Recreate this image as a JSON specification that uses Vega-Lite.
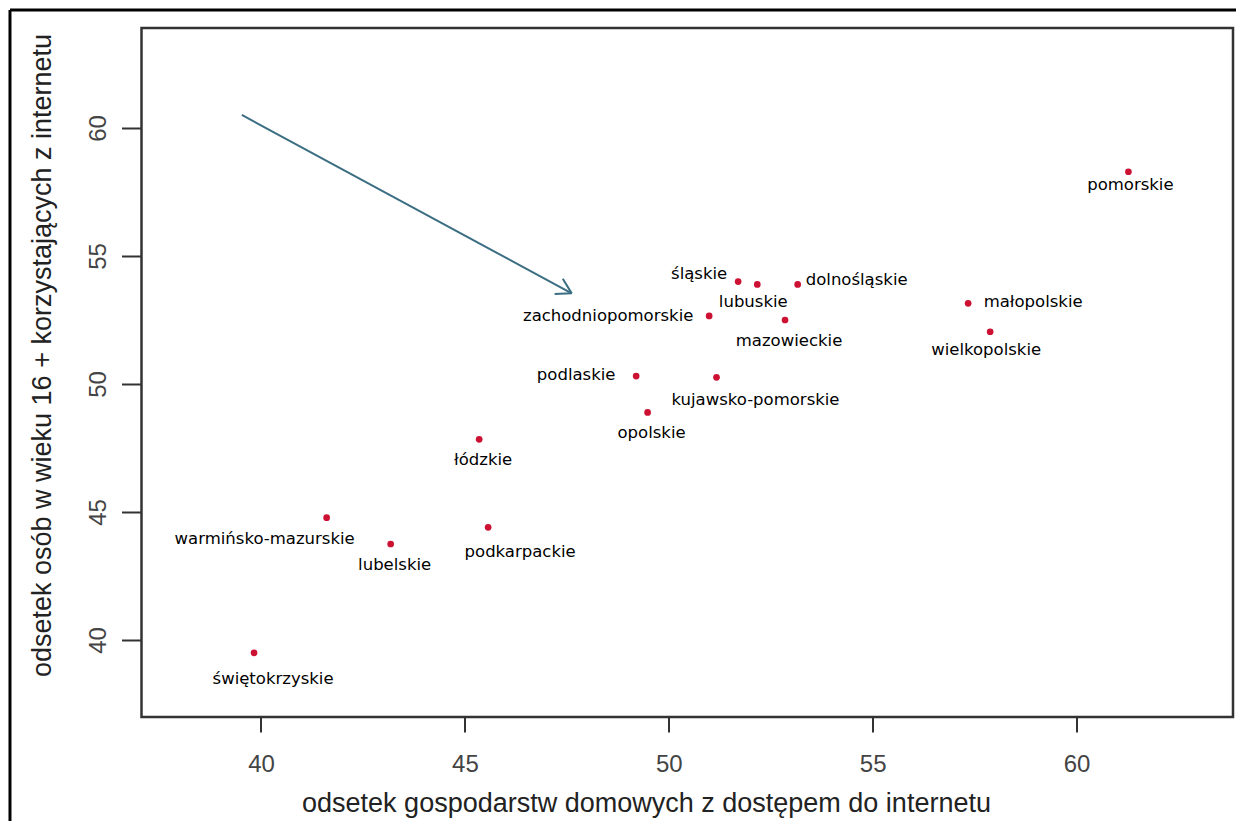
{
  "$schema": "https://vega.github.io/schema/vega-lite/v6.json",
  "width": 1091.5,
  "height": 689,
  "autosize": {"type": "none"},
  "padding": {"left": 141.5, "top": 28, "right": 3.5, "bottom": 104},
  "background": "white",
  "config": {"view": {"stroke": "#333333", "strokeWidth": 2.5}},
  "datasets": {
    "regions": [
      {"name": "dolnośląskie", "x": 53.16, "y": 53.89},
      {"name": "kujawsko-pomorskie", "x": 51.17, "y": 50.26},
      {"name": "lubelskie", "x": 43.18, "y": 43.75},
      {"name": "lubuskie", "x": 52.17, "y": 53.89},
      {"name": "łódzkie", "x": 45.35, "y": 47.84},
      {"name": "małopolskie", "x": 57.34, "y": 53.15},
      {"name": "mazowieckie", "x": 52.85, "y": 52.5},
      {"name": "opolskie", "x": 49.48, "y": 48.89},
      {"name": "podkarpackie", "x": 45.57, "y": 44.4},
      {"name": "podlaskie", "x": 49.2, "y": 50.31},
      {"name": "pomorskie", "x": 61.27, "y": 58.29},
      {"name": "śląskie", "x": 51.7, "y": 54.0},
      {"name": "świętokrzyskie", "x": 39.83, "y": 39.5},
      {"name": "warmińsko-mazurskie", "x": 41.61, "y": 44.78},
      {"name": "wielkopolskie", "x": 57.88, "y": 52.04},
      {"name": "zachodniopomorskie", "x": 50.99, "y": 52.66}
    ],
    "arrow": [
      {"x": 39.53, "y": 60.51, "x2": 47.62, "y2": 53.54},
      {"x": 47.4, "y": 54.11, "x2": 47.62, "y2": 53.54},
      {"x": 47.2, "y": 53.52, "x2": 47.62, "y2": 53.54}
    ],
    "frame": [
      {"x": 33.845, "y": 64.609, "x2": 64.1, "y2": 64.609},
      {"x": 33.845, "y": 64.609, "x2": 33.845, "y2": 32.9}
    ]
  },
  "data": {"name": "regions"},
  "encoding": {
    "x": {
      "field": "x",
      "type": "quantitative",
      "scale": {"domain": [37.07, 63.835], "nice": false, "zero": false},
      "axis": {
        "title": "odsetek gospodarstw domowych z dostępem do internetu",
        "values": [40, 45, 50, 55, 60],
        "domain": false,
        "grid": false,
        "ticks": true,
        "tickSize": 15,
        "tickWidth": 2,
        "tickColor": "#333333",
        "labelFont": "Liberation Sans",
        "labelFontSize": 24,
        "labelColor": "#444444",
        "labelBaseline": "alphabetic",
        "labelAlign": "center",
        "labelPadding": 39.6,
        "labelFlush": false,
        "labelOverlap": false,
        "titleFont": "Liberation Sans",
        "titleFontSize": 27,
        "titleFontWeight": "normal",
        "titleColor": "#222222",
        "titleX": 504.5,
        "titleY": 94,
        "titleAlign": "center",
        "titleBaseline": "alphabetic"
      }
    },
    "y": {
      "field": "y",
      "type": "quantitative",
      "scale": {"domain": [36.992, 63.906], "nice": false, "zero": false},
      "axis": {
        "title": "odsetek osób w wieku 16 + korzystających z internetu",
        "values": [40, 45, 50, 55, 60],
        "domain": false,
        "grid": false,
        "ticks": true,
        "tickSize": 20,
        "tickWidth": 2,
        "tickColor": "#333333",
        "labelFont": "Liberation Sans",
        "labelFontSize": 24,
        "labelColor": "#444444",
        "labelAngle": -90,
        "labelAlign": "center",
        "labelBaseline": "alphabetic",
        "labelPadding": 15.9,
        "labelFlush": false,
        "labelOverlap": false,
        "titleFont": "Liberation Sans",
        "titleFontSize": 27,
        "titleFontWeight": "normal",
        "titleColor": "#222222",
        "titleAngle": -90,
        "titleX": -91.5,
        "titleY": 327,
        "titleAlign": "center",
        "titleBaseline": "alphabetic"
      }
    }
  },
  "layer": [
    {
      "data": {"name": "frame"},
      "mark": {"type": "rule", "color": "#000000", "strokeWidth": 3, "clip": false},
      "encoding": {"x2": {"field": "x2"}, "y2": {"field": "y2"}}
    },
    {
      "data": {"name": "arrow"},
      "mark": {"type": "rule", "color": "#3b6e82", "strokeWidth": 2},
      "encoding": {"x2": {"field": "x2"}, "y2": {"field": "y2"}}
    },
    {
      "mark": {"type": "point", "filled": true, "shape": "circle", "size": 45, "color": "#cc1133", "opacity": 1}
    },
    {"transform": [{"filter": "datum.name === 'świętokrzyskie'"}], "mark": {"type": "text", "font": "DejaVu Sans", "fontSize": 16.5, "color": "#000000", "align": "center", "baseline": "middle", "dx": 19, "dy": 26}, "encoding": {"text": {"field": "name"}}},
    {"transform": [{"filter": "datum.name === 'pomorskie'"}], "mark": {"type": "text", "font": "DejaVu Sans", "fontSize": 16.5, "color": "#000000", "align": "center", "baseline": "middle", "dx": 2, "dy": 13}, "encoding": {"text": {"field": "name"}}},
    {"transform": [{"filter": "datum.name === 'małopolskie'"}], "mark": {"type": "text", "font": "DejaVu Sans", "fontSize": 16.5, "color": "#000000", "align": "center", "baseline": "middle", "dx": 65, "dy": -1}, "encoding": {"text": {"field": "name"}}},
    {"transform": [{"filter": "datum.name === 'wielkopolskie' || datum.name === 'lubuskie'"}], "mark": {"type": "text", "font": "DejaVu Sans", "fontSize": 16.5, "color": "#000000", "align": "center", "baseline": "middle", "dx": -4, "dy": 18}, "encoding": {"text": {"field": "name"}}},
    {"transform": [{"filter": "datum.name === 'mazowieckie' || datum.name === 'opolskie' || datum.name === 'łódzkie' || datum.name === 'lubelskie'"}], "mark": {"type": "text", "font": "DejaVu Sans", "fontSize": 16.5, "color": "#000000", "align": "center", "baseline": "middle", "dx": 4, "dy": 21}, "encoding": {"text": {"field": "name"}}},
    {"transform": [{"filter": "datum.name === 'śląskie'"}], "mark": {"type": "text", "font": "DejaVu Sans", "fontSize": 16.5, "color": "#000000", "align": "center", "baseline": "middle", "dx": -39, "dy": -8}, "encoding": {"text": {"field": "name"}}},
    {"transform": [{"filter": "datum.name === 'dolnośląskie'"}], "mark": {"type": "text", "font": "DejaVu Sans", "fontSize": 16.5, "color": "#000000", "align": "center", "baseline": "middle", "dx": 59, "dy": -4}, "encoding": {"text": {"field": "name"}}},
    {"transform": [{"filter": "datum.name === 'zachodniopomorskie'"}], "mark": {"type": "text", "font": "DejaVu Sans", "fontSize": 16.5, "color": "#000000", "align": "center", "baseline": "middle", "dx": -101, "dy": 0}, "encoding": {"text": {"field": "name"}}},
    {"transform": [{"filter": "datum.name === 'podlaskie'"}], "mark": {"type": "text", "font": "DejaVu Sans", "fontSize": 16.5, "color": "#000000", "align": "center", "baseline": "middle", "dx": -60, "dy": -1}, "encoding": {"text": {"field": "name"}}},
    {"transform": [{"filter": "datum.name === 'kujawsko-pomorskie'"}], "mark": {"type": "text", "font": "DejaVu Sans", "fontSize": 16.5, "color": "#000000", "align": "center", "baseline": "middle", "dx": 39, "dy": 23}, "encoding": {"text": {"field": "name"}}},
    {"transform": [{"filter": "datum.name === 'podkarpackie'"}], "mark": {"type": "text", "font": "DejaVu Sans", "fontSize": 16.5, "color": "#000000", "align": "center", "baseline": "middle", "dx": 32, "dy": 25}, "encoding": {"text": {"field": "name"}}},
    {"transform": [{"filter": "datum.name === 'warmińsko-mazurskie'"}], "mark": {"type": "text", "font": "DejaVu Sans", "fontSize": 16.5, "color": "#000000", "align": "center", "baseline": "middle", "dx": -62, "dy": 21}, "encoding": {"text": {"field": "name"}}}
  ]
}
